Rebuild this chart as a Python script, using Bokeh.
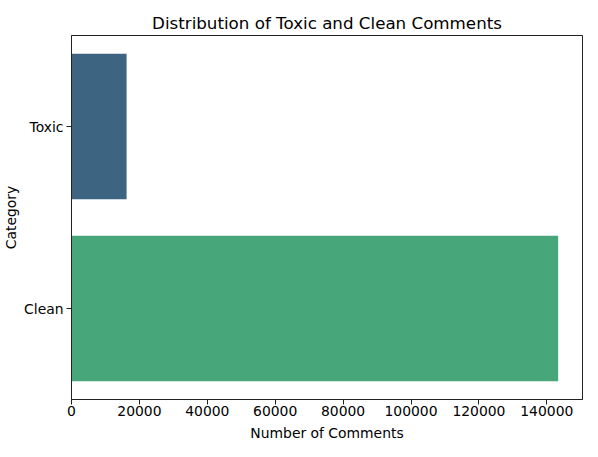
from bokeh.plotting import figure
from bokeh.models import FactorRange, Range1d, FixedTicker, NumeralTickFormatter, ColumnDataSource
from bokeh.embed import file_html
from bokeh.resources import INLINE

categories = ["Toxic", "Clean"]
counts = [16225, 143346]
colors = ["#3d6480", "#47a77a"]
x_ticks = [0, 20000, 40000, 60000, 80000, 100000, 120000, 140000]

FONT = "DejaVu Sans"

src = ColumnDataSource(dict(cat=categories, count=counts, color=colors))

p = figure(
    width=590, height=449,
    y_range=FactorRange(factors=list(reversed(categories)), range_padding=0),
    x_range=Range1d(0, max(counts) * 1.05),
    output_backend="svg", toolbar_location=None,
    title="Distribution of Toxic and Clean Comments",
    min_border_left=71, min_border_right=8, min_border_top=35, min_border_bottom=50,
)

p.hbar(y="cat", right="count", left=0, height=0.8, color="color", source=src, line_color=None)

p.title.align = "center"
p.title.text_font = FONT
p.title.text_font_size = "16.7px"
p.title.text_font_style = "normal"
p.title.text_color = "black"
p.title.standoff = 6

p.xgrid.visible = False
p.ygrid.visible = False
p.outline_line_color = "#222222"
p.outline_line_width = 1

p.xaxis.ticker = FixedTicker(ticks=x_ticks)
p.xaxis.formatter = NumeralTickFormatter(format="0")
p.xaxis.axis_label = "Number of Comments"
p.yaxis.axis_label = "Category"

for ax in (p.xaxis, p.yaxis):
    ax.axis_label_text_font = FONT
    ax.axis_label_text_font_size = "13.9px"
    ax.axis_label_text_font_style = "normal"
    ax.axis_label_text_color = "black"
    ax.major_label_text_font = FONT
    ax.major_label_text_font_size = "13.9px"
    ax.major_label_text_color = "black"
    ax.major_tick_out = 5
    ax.major_tick_in = 0
    ax.minor_tick_out = 0
    ax.minor_tick_in = 0
    ax.axis_line_color = "#222222"
    ax.major_tick_line_color = "#222222"

p.xaxis.major_label_standoff = 1
p.xaxis.axis_label_standoff = 6
p.yaxis.major_label_standoff = 3
p.yaxis.axis_label_standoff = 2

open("out.html", "w").write(file_html(p, INLINE))
